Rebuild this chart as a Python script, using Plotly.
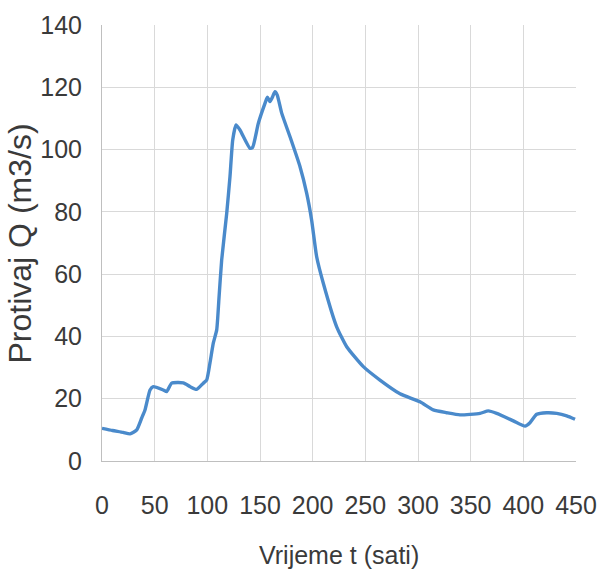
import plotly.graph_objects as go

# Hydrograph: discharge Q (m3/s) over time t (hours)
t_hours = [0, 10, 20, 26.6, 33, 37.7, 40.8, 45.6, 48.7, 58.2, 61.4, 66.2, 77.2, 83.5,
           89.9, 96.2, 99.4, 102.5, 105.7, 108.9, 111, 113.6, 118.4, 121.5, 124.1,
           127.2, 131, 140.5, 143, 148.4, 154.8, 157, 159.5, 162, 164.2, 166.4,
           170.6, 178.5, 188, 194.3, 199, 203.8, 210.1, 222.8, 232.3, 248.1, 263.9,
           282.9, 301.9, 314.5, 327.2, 339.9, 358.9, 366.8, 374.7, 390.5, 401.6,
           406.3, 412.7, 422.2, 431.7, 441.2, 449.1]
q_flow = [10.5, 9.8, 9.2, 8.7, 10.0, 13.8, 16.4, 22.8, 23.9, 22.8, 22.3, 25.0, 25.1, 23.9,
          23.0, 25.0, 26.0, 31.5, 37.9, 42.1, 52.0, 64.5, 79.5, 91.3, 103.1,
          107.9, 106.3, 100.4, 100.7, 108.4, 114.9, 116.8, 115.4, 117.0, 118.6, 117.5,
          111.7, 104.1, 94.5, 86.0, 77.4, 65.6, 57.1, 43.1, 36.7, 30.3, 26.0,
          21.6, 19.0, 16.4, 15.5, 14.8, 15.3, 16.1, 15.3, 12.9, 11.2,
          12.3, 15.0, 15.5, 15.3, 14.5, 13.4]

x_ticks = [0, 50, 100, 150, 200, 250, 300, 350, 400, 450]
y_ticks = [0, 20, 40, 60, 80, 100, 120, 140]

x_title = "Vrijeme t (sati)"
y_title = "Protivaj Q (m3/s)"

font_family = "Liberation Sans, Arial, sans-serif"
text_color = "#3a3a3a"
grid_color = "#d9d9d9"

fig = go.Figure()
fig.add_trace(go.Scatter(
    x=t_hours, y=q_flow, mode="lines",
    line=dict(color="#4a8acb", width=3.4, shape="spline", smoothing=0.5),
    hoverinfo="skip", showlegend=False,
))

fig.update_layout(
    width=598, height=584,
    margin=dict(l=102, r=22, t=25, b=123),
    paper_bgcolor="white", plot_bgcolor="white",
    font=dict(family=font_family, color=text_color),
)

fig.update_xaxes(
    range=[0, 450], tickvals=x_ticks, ticktext=[str(v) for v in x_ticks],
    showgrid=True, gridcolor=grid_color, gridwidth=1,
    showline=True, linecolor="#bfbfbf", linewidth=1, mirror=False,
    zeroline=False, ticks="", ticklabelstandoff=22, tickangle=0, automargin=False,
    tickfont=dict(family=font_family, size=25, color=text_color),
)
fig.update_yaxes(
    range=[0, 140], tickvals=y_ticks, ticktext=[str(v) for v in y_ticks],
    showgrid=True, gridcolor=grid_color, gridwidth=1,
    showline=True, linecolor="#bfbfbf", linewidth=1,
    zeroline=False, ticks="", ticklabelstandoff=14, automargin=False,
    tickfont=dict(family=font_family, size=25, color=text_color),
)

# axis titles
fig.add_annotation(
    text=x_title, xref="paper", yref="paper", x=0.5, y=-0.215,
    xanchor="center", yanchor="middle", showarrow=False,
    font=dict(family=font_family, size=25, color=text_color),
)
fig.add_annotation(
    text=y_title, xref="paper", yref="paper", x=-0.172, y=0.5,
    xanchor="center", yanchor="middle", showarrow=False, textangle=-90,
    font=dict(family=font_family, size=32, color=text_color),
)

fig.write_html("out.html")
